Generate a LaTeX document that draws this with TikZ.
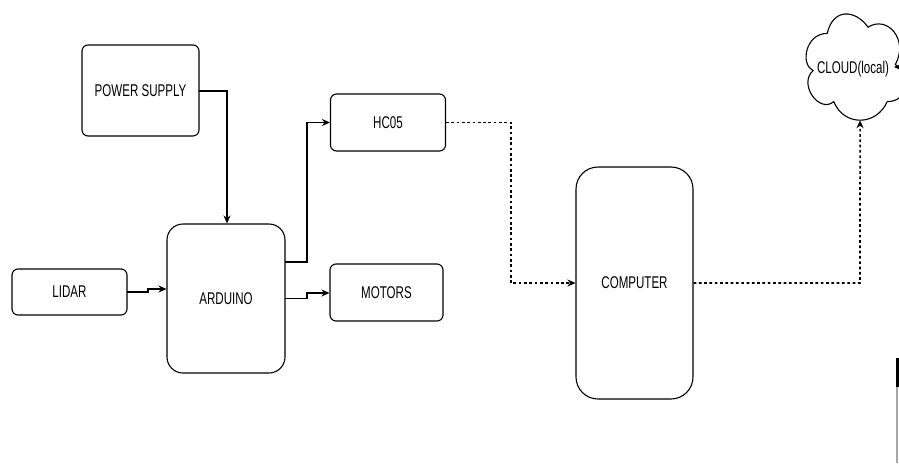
\documentclass[tikz,border=0pt]{standalone}
\usepackage{fontspec}
\setmainfont{Liberation Sans}
\usetikzlibrary{arrows.meta}
\newcommand{\lbl}[1]{\scalebox{0.68}[1]{#1}}
\begin{document}
\begin{tikzpicture}[x=1pt,y=-1pt,
  box/.style={draw,line width=1.1pt,rounded corners=6pt,inner sep=0pt,font=\fontsize{17}{20}\selectfont},
  conn/.style={line width=1.1pt,-{Stealth[length=8pt,width=7pt]}},
  dotconn/.style={line width=1.6pt,dash pattern=on 2.7pt off 2.6pt,-{Stealth[length=8pt,width=7pt]}}]
\useasboundingbox (0,0) rectangle (899,463);
\fill[white] (0,0) rectangle (899,463);
\node[box,minimum width=117pt,minimum height=91pt] (ps) at (140.5,90.5) {\lbl{POWER SUPPLY}};
\node[box,minimum width=115pt,minimum height=46pt] (lidar) at (69.5,292) {\lbl{LIDAR}};
\node[box,rounded corners=16pt,minimum width=118pt,minimum height=149pt] (ard) at (226,298.5) {\lbl{ARDUINO}};
\node[box,minimum width=115pt,minimum height=57pt] (hc) at (388,122.5) {\lbl{HC05}};
\node[box,minimum width=113pt,minimum height=57pt] (mot) at (386.5,292.5) {\lbl{MOTORS}};
\node[box,rounded corners=22pt,minimum width=117pt,minimum height=232pt] (comp) at (634.5,283) {\lbl{COMPUTER}};
% cloud outline (draw.io style)
\begin{scope}[shift={(800,2.4)},x=109pt,y=-124pt]
\draw[line width=1.1pt] (0.25,0.25)
  .. controls (0.05,0.25) and (0,0.5) .. (0.12,0.55)
  .. controls (-0.02,0.66) and (0.18,0.9) .. (0.31,0.8)
  .. controls (0.4,1) and (0.7,1) .. (0.8,0.8)
  .. controls (1,0.8) and (1,0.6) .. (0.875,0.5)
  .. controls (1,0.3) and (0.8,0.1) .. (0.625,0.2)
  .. controls (0.5,0.05) and (0.3,0.05) .. (0.25,0.25) -- cycle;
\coordinate (cloudbottom) at (0.551,0.95);
\end{scope}
\node[inner sep=0pt,font=\fontsize{17}{20}\selectfont] (cloud) at (853,69) {\lbl{CLOUD(local)}};
% connectors
\coordinate (psout) at (199,91);
\coordinate (pscorner) at (227,91);
\draw[conn] (psout) -- (pscorner) -- (pscorner |- ard.north);
\coordinate (lidout) at (127,292);
\coordinate (lidstep) at (148,292);
\coordinate (lidstep2) at (148,289);
\draw[conn] (lidout) -- (lidstep) -- (lidstep2) -- (lidstep2 -| ard.west);
\coordinate (ardhc) at (285,262);
\coordinate (ardhc2) at (307,262);
\draw[conn] (ardhc) -- (ardhc2) -- (ardhc2 |- hc.west) -- (hc.west);
\coordinate (ardmot) at (285,298.5);
\coordinate (ardmot2) at (307,298.5);
\coordinate (ardmot3) at (307,293);
\draw[conn] (ardmot) -- (ardmot2) -- (ardmot3) -- (ardmot3 -| mot.west);
\coordinate (hcc) at (511,122.5);
\draw[dotconn] (hc.east) -- (hcc) -- (hcc |- comp.west) -- (comp.west);
\coordinate (cc) at (860,283);
\draw[dotconn] (comp.east) -- (cc) -- (cloudbottom);
\coordinate (rightedge) at (901,67);
\coordinate (cloudright) at (894,67);
\draw[conn] (rightedge) -- (cloudright);
% edge artifact
\fill[black] (896,358) rectangle (899,387);
\fill[gray!70] (896,387) rectangle (897.5,463);
\end{tikzpicture}
\end{document}
